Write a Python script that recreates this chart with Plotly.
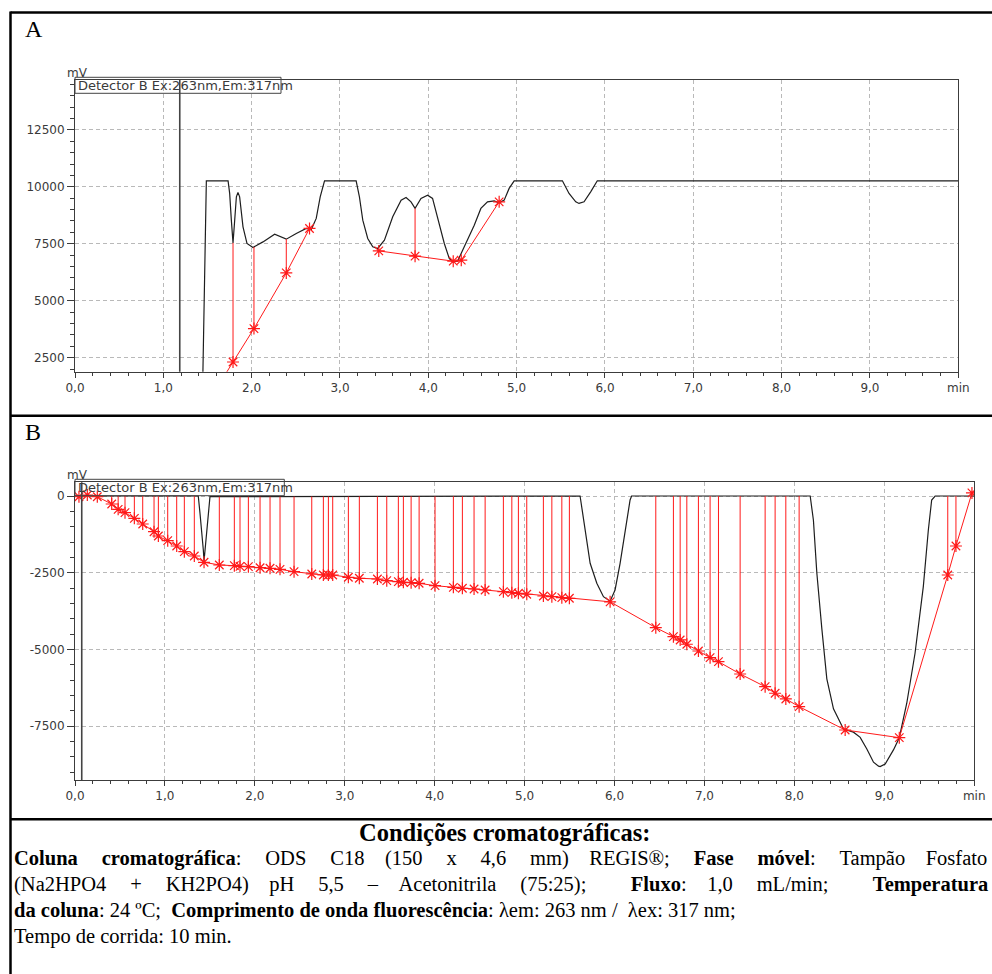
import numpy as np
import plotly.graph_objects as go

W, H = 992, 974

# ---------------- Panel A : chromatogram (min, mV) ----------------
a_time = [1.44, 1.487, 1.733, 1.751, 1.77, 1.789, 1.808, 1.827, 1.845, 1.864,
          1.902, 1.947, 2.015, 2.128, 2.26, 2.336, 2.392, 2.505, 2.618, 2.675,
          2.731, 2.776, 2.825, 3.183, 3.22, 3.258, 3.314, 3.371, 3.427, 3.503,
          3.597, 3.692, 3.748, 3.804, 3.85, 3.917, 3.992, 4.048, 4.105, 4.181,
          4.237, 4.275, 4.331, 4.426, 4.52, 4.595, 4.67, 4.746, 4.802, 4.859,
          4.915, 4.972, 5.518, 5.593, 5.669, 5.706, 5.763, 5.838, 5.913, 10.0]
a_signal = [150, 10264, 10264, 9710, 8537, 7539, 8537, 9561, 9754, 9561,
            8242, 7513, 7337, 7583, 7922, 7803, 7702, 7952, 8172, 8128,
            8612, 9561, 10264, 10264, 9561, 8537, 7733, 7364, 7294, 7658,
            8682, 9416, 9534, 9341, 9051, 9490, 9635, 9490, 8682, 7513,
            6854, 6705, 6735, 7513, 8317, 9051, 9341, 9385, 9297, 9416,
            9930, 10264, 10264, 9710, 9341, 9270, 9341, 9780, 10264, 10264]

# integration marks (baseline points) for panel A
a_mark_t = [1.789, 2.026, 2.392, 2.655, 3.439, 3.85, 4.282, 4.373, 4.802]
a_mark_v = [2311, 3778, 6221, 8172, 7188, 6955, 6735, 6779, 9341]
a_base_start = (1.70, 1760)          # baseline runs in from below the axis
a_segments = [[0, 1, 2, 3], [4, 5, 6, 7, 8]]
a_drops = [0, 1, 2, 5]
a_event_t = 1.186

# ---------------- Panel B : chromatogram (min, mV) ----------------
b_time = [0.0, 1.371, 1.39, 1.409, 1.427, 1.435, 1.457, 1.483, 1.501, 5.617,
          5.673, 5.729, 5.803, 5.877, 5.951, 6.006, 6.062, 6.118, 6.173, 6.19,
          8.176, 8.212, 8.25, 8.306, 8.361, 8.435, 8.546, 8.657, 8.732, 8.806,
          8.88, 8.936, 8.954, 9.01, 9.102, 9.167, 9.25, 9.342, 9.434, 9.49,
          9.527, 9.566, 10.0]
b_signal = [0, 0, -564, -1108, -1760, -2120, -1434, -456, -23, 0,
            -1108, -2194, -2846, -3283, -3430, -3064, -2194, -1108, -130, 0,
            0, -790, -2510, -4340, -5960, -6940, -7600, -7700, -7870, -8250,
            -8680, -8810, -8820, -8740, -8279, -7880, -6757, -5127, -2956, -1108,
            -130, 0, 0]

b_mark_t = [0.044, 0.137, 0.248, 0.408, 0.48, 0.556, 0.66, 0.753, 0.879, 0.927,
            1.031, 1.131, 1.216, 1.327, 1.435, 1.605, 1.772, 1.835, 1.928, 2.058,
            2.169, 2.28, 2.436, 2.633, 2.762, 2.818, 2.866, 3.04, 3.162, 3.363,
            3.467, 3.596, 3.652, 3.738, 3.827, 4.004, 4.208, 4.308, 4.438, 4.561,
            4.764, 4.858, 4.931, 5.024, 5.209, 5.303, 5.414, 5.498, 5.951, 6.459,
            6.655, 6.73, 6.804, 6.933, 7.063, 7.156, 7.397, 7.675, 7.786, 7.905,
            8.053, 8.565, 9.167, 9.706, 9.797, 9.975]
b_mark_v = [-23, 33, -23, -261, -434, -544, -727, -913, -1164, -1304,
            -1457, -1630, -1816, -1956, -2161, -2249, -2272, -2292, -2305, -2338,
            -2357, -2390, -2468, -2543, -2575, -2575, -2575, -2650, -2683, -2706,
            -2761, -2794, -2813, -2826, -2846, -2924, -2977, -3009, -3032, -3064,
            -3120, -3152, -3172, -3204, -3260, -3282, -3315, -3335, -3450, -4293,
            -4587, -4694, -4834, -5053, -5271, -5402, -5803, -6217, -6432, -6618,
            -6869, -7629, -7880, -2575, -1630, 100]
b_event_t = 0.075

# ---------------- axes ticks ----------------
x_tick_vals = list(range(11))
x_tick_text = ["0,0", "1,0", "2,0", "3,0", "4,0", "5,0", "6,0", "7,0", "8,0", "9,0", "min"]
a_y_ticks = [2500, 5000, 7500, 10000, 12500]
b_y_ticks = [0, -2500, -5000, -7500]
a_y_range = [1885, 14688]
b_y_range = [-9260, 447]

detector_label = "Detector B Ex:263nm,Em:317nm"

# ---------------- caption text ----------------
title_line = "<b>Condições cromatográficas:</b>"
# word groups per line; justified lines get widened gaps
line1_words = ["<b>Coluna</b>", "<b>cromatográfica</b>:", "ODS", "C18", "(150", "x", "4,6",
               "mm)", "REGIS®;", "<b>Fase</b>", "<b>móvel</b>:", "Tampão", "Fosfato"]
line2_words = ["(Na2HPO4", "+", "KH2PO4)", "pH", "5,5", "–", "Acetonitrila", "(75:25);",
               "<b>Fluxo</b>:", "1,0", "mL/min;", "<b>Temperatura</b>"]
line2_double = [7, 10]   # gaps that carry two spaces
line3_text = ("<b>da coluna</b>: 24 ºC; &nbsp;<b>Comprimento de onda fluorescência</b>: "
              "λem: 263 nm / &nbsp;λex: 317 nm;")
line4_text = "Tempo de corrida: 10 min."

EN, QUARTER, SIXTH = "\u2002", "\u2005", "\u2006"


def justified(words, sixth_every, doubles=()):
    out = words[0]
    for i, w in enumerate(words[1:]):
        gap = " " + EN + QUARTER + (SIXTH if i % sixth_every != sixth_every - 1 else "")
        if i in doubles:
            gap = gap + " " + EN + QUARTER
        out += gap + w
    return out


body_lines = [
    justified(line1_words, 4),
    justified(line2_words, 3, line2_double),
    line3_text,
    line4_text,
]


def px(x):
    return x / W


def py(y):
    return 1 - y / H


AX = "#3c3c3c"
GRID = "#b9b9b9"
TRACE = "#1e1e1e"
RED = "#ff1a1a"
TICKFONT = dict(family="DejaVu Sans", size=12, color="#3a3a3a")

fig = go.Figure()


def drop_lines(t_marks, v_marks, idx, t_trace, v_trace):
    xs, ys = [], []
    for i in idx:
        top = float(np.interp(t_marks[i], t_trace, v_trace))
        xs += [t_marks[i], t_marks[i], None]
        ys += [v_marks[i], top, None]
    return xs, ys


MARK = dict(symbol="asterisk-open", size=10, color=RED, line=dict(color=RED, width=1.2))

# ---- panel A traces ----
fig.add_trace(go.Scatter(x=a_time, y=a_signal, mode="lines",
                         line=dict(color=TRACE, width=1.2),
                         xaxis="x", yaxis="y", hoverinfo="skip"))
dx, dy = drop_lines(a_mark_t, a_mark_v, a_drops, a_time, a_signal)
fig.add_trace(go.Scatter(x=dx, y=dy, mode="lines", line=dict(color=RED, width=1),
                         xaxis="x", yaxis="y", hoverinfo="skip"))
for k, seg in enumerate(a_segments):
    sx = [a_mark_t[i] for i in seg]
    sy = [a_mark_v[i] for i in seg]
    if k == 0:
        sx = [a_base_start[0]] + sx
        sy = [a_base_start[1]] + sy
    fig.add_trace(go.Scatter(x=sx, y=sy, mode="lines", line=dict(color=RED, width=1),
                             xaxis="x", yaxis="y", hoverinfo="skip"))
fig.add_trace(go.Scatter(x=a_mark_t, y=a_mark_v, mode="markers", marker=MARK,
                         xaxis="x", yaxis="y", hoverinfo="skip"))

# ---- panel B traces ----
fig.add_trace(go.Scatter(x=b_time, y=b_signal, mode="lines",
                         line=dict(color=TRACE, width=1.2),
                         xaxis="x2", yaxis="y2", hoverinfo="skip"))
dx, dy = drop_lines(b_mark_t, b_mark_v, range(len(b_mark_t)), b_time, b_signal)
fig.add_trace(go.Scatter(x=dx, y=dy, mode="lines", line=dict(color=RED, width=1),
                         xaxis="x2", yaxis="y2", hoverinfo="skip"))
fig.add_trace(go.Scatter(x=b_mark_t, y=b_mark_v, mode="lines+markers",
                         line=dict(color=RED, width=1), marker=MARK,
                         xaxis="x2", yaxis="y2", hoverinfo="skip"))


def x_axis(domain, anchor):
    return dict(domain=domain, anchor=anchor, range=[0, 10], automargin=False,
                tickmode="array", tickvals=x_tick_vals, ticktext=x_tick_text,
                ticks="outside", ticklen=5, tickwidth=1, tickcolor=AX,
                showline=True, linecolor=AX, linewidth=1, mirror=True,
                showgrid=True, gridcolor=GRID, gridwidth=1, griddash="4px,3px",
                zeroline=False, tickfont=TICKFONT,
                minor=dict(tick0=0, dtick=0.2, ticks="outside", ticklen=3,
                           tickwidth=1, tickcolor=AX, showgrid=False))


def y_axis(domain, anchor, rng, vals):
    return dict(domain=domain, anchor=anchor, range=rng, automargin=False,
                tickmode="array", tickvals=vals, ticktext=[str(v) for v in vals],
                ticks="outside", ticklen=7, tickwidth=1, tickcolor=AX,
                showline=True, linecolor=AX, linewidth=1, mirror=True,
                showgrid=True, gridcolor=GRID, gridwidth=1, griddash="4px,3px",
                zeroline=False, tickfont=TICKFONT,
                minor=dict(tick0=0, dtick=500, ticks="outside", ticklen=4,
                           tickwidth=1, tickcolor=AX, showgrid=False))


a_dom_x = [px(75), px(958.3)]
a_dom_y = [py(371.7), py(80)]
b_dom_x = [px(75), px(974.2)]
b_dom_y = [py(780), py(482.3)]

shapes = []
# injection / event markers
for t, xr, yr in [(a_event_t, "x", "y domain"), (b_event_t, "x2", "y2 domain")]:
    shapes.append(dict(type="line", xref=xr, yref=yr, x0=t, x1=t, y0=0, y1=1,
                       line=dict(color="#444444", width=1.6)))
# detector label boxes
shapes.append(dict(type="rect", xref="paper", yref="paper",
                   x0=px(75), x1=px(281), y0=py(93.3), y1=py(77.3),
                   line=dict(color="#444444", width=1)))
shapes.append(dict(type="rect", xref="paper", yref="paper",
                   x0=px(75), x1=px(284.3), y0=py(495.7), y1=py(479.3),
                   line=dict(color="#444444", width=1)))
# table frame
BORDER = dict(color="black", width=2.5)
shapes += [
    dict(type="line", xref="paper", yref="paper", x0=px(10.5), x1=px(10.5), y0=0, y1=py(11.5), line=BORDER),
    dict(type="line", xref="paper", yref="paper", x0=px(10.5), x1=1, y0=py(12.5), y1=py(12.5), line=BORDER),
    dict(type="line", xref="paper", yref="paper", x0=px(10.5), x1=1, y0=py(415.8), y1=py(415.8), line=BORDER),
    dict(type="line", xref="paper", yref="paper", x0=px(10.5), x1=1, y0=py(819.3), y1=py(819.3), line=BORDER),
]

ann = []
LABFONT = dict(family="DejaVu Sans", size=13, color="#3a3a3a")
for yc in (85.5, 487.5):
    ann.append(dict(text=detector_label, xref="paper", yref="paper", x=px(76), y=py(yc),
                    xanchor="left", yanchor="middle", showarrow=False, font=LABFONT))
for yc in (72.5, 474.5):
    ann.append(dict(text="mV", xref="paper", yref="paper", x=px(77.5), y=py(yc),
                    xanchor="center", yanchor="middle", showarrow=False,
                    font=dict(family="DejaVu Sans", size=12, color="#3a3a3a")))
for lab, xc, yc in (("A", 33.8, 29), ("B", 32.5, 431.7)):
    ann.append(dict(text=lab, xref="paper", yref="paper", x=px(xc), y=py(yc),
                    xanchor="center", yanchor="middle", showarrow=False,
                    font=dict(family="Liberation Serif", size=24, color="black")))

SERIF = dict(family="Liberation Serif", size=20.5, color="black")
ann.append(dict(text=title_line, xref="paper", yref="paper", x=px(505), y=py(832),
                xanchor="center", yanchor="middle", showarrow=False,
                font=dict(family="Liberation Serif", size=24.5, color="black")))
for i, line in enumerate(body_lines):
    ann.append(dict(text=line, xref="paper", yref="paper", x=px(12), y=py(858 + 26 * i),
                    xanchor="left", yanchor="middle", showarrow=False, font=SERIF))

fig.update_layout(
    width=W, height=H, autosize=False, margin=dict(l=0, r=0, t=0, b=0, autoexpand=False),
    paper_bgcolor="white", plot_bgcolor="white", showlegend=False,
    xaxis=x_axis(a_dom_x, "y"), yaxis=y_axis(a_dom_y, "x", a_y_range, a_y_ticks),
    xaxis2=x_axis(b_dom_x, "y2"), yaxis2=y_axis(b_dom_y, "x2", b_y_range, b_y_ticks),
    shapes=shapes, annotations=ann,
)

fig.write_html("out.html", config={"responsive": False})
